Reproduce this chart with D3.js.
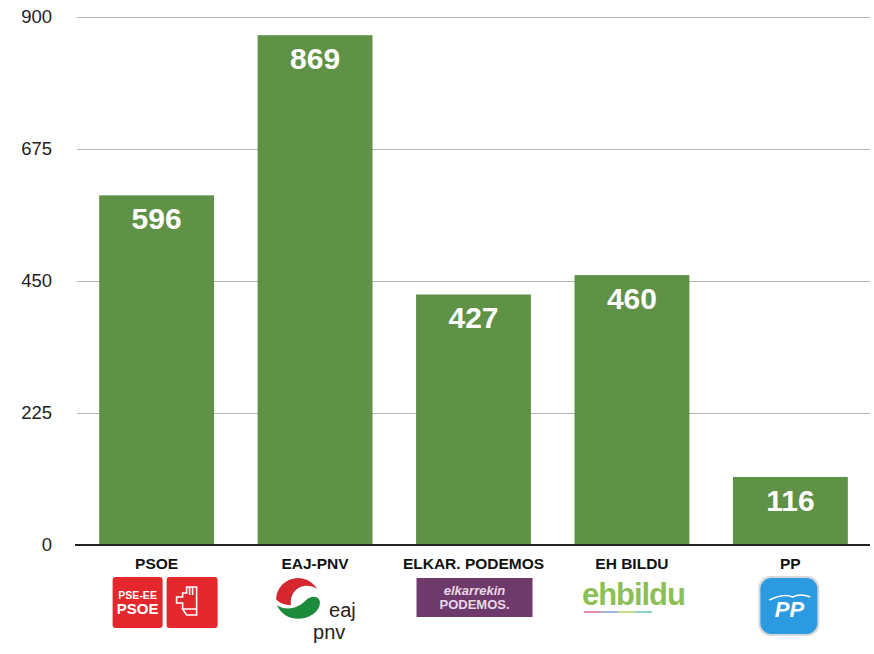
<!DOCTYPE html>
<html>
<head>
<meta charset="utf-8">
<script src="https://cdn.jsdelivr.net/npm/d3@7"></script>
<style>
  body { margin: 0; background: #fff; }
  text { font-family: "Liberation Sans", Arial, sans-serif; }
</style>
</head>
<body>
<svg id="chart"></svg>
<script>
const parties = ['PSOE', 'EAJ-PNV', 'ELKAR. PODEMOS', 'EH BILDU', 'PP'];
const seats = [596, 869, 427, 460, 116];
const yTicks = [0, 225, 450, 675, 900];

const width = 874, height = 654;
const margin = {top: 17, right: 4, bottom: 109, left: 77};

const svg = d3.select('#chart')
    .attr('width', width)
    .attr('height', height);

const x = d3.scaleBand()
    .domain(parties)
    .range([margin.left, width - margin.right])
    .paddingInner(0.275)
    .paddingOuter(0.14);

const y = d3.scaleLinear()
    .domain([0, 900])
    .range([height - margin.bottom, margin.top]);

// gridlines + tick labels
const yAxis = svg.append('g')
    .attr('transform', `translate(${margin.left},0)`)
    .call(d3.axisLeft(y).tickValues(yTicks).tickSize(-(width - margin.left - margin.right)).tickPadding(25));
yAxis.select('.domain').remove();
yAxis.selectAll('.tick line').attr('stroke', '#b4b4b4').attr('stroke-width', 1.2);
yAxis.selectAll('.tick text')
    .attr('fill', '#222')
    .attr('font-size', 18.5)
    .style('font-family', '"Liberation Sans", Arial, sans-serif');

// bars
svg.selectAll('.bar')
  .data(parties)
  .join('rect')
    .attr('class', 'bar')
    .attr('x', d => x(d))
    .attr('width', x.bandwidth())
    .attr('y', (d, i) => y(seats[i]))
    .attr('height', (d, i) => y(0) - y(seats[i]))
    .attr('fill', '#5f9146');

// value labels
svg.selectAll('.val')
  .data(parties)
  .join('text')
    .attr('class', 'val')
    .attr('x', d => x(d) + x.bandwidth() / 2)
    .attr('y', (d, i) => y(seats[i]) + 34)
    .attr('text-anchor', 'middle')
    .attr('fill', '#fff')
    .attr('font-size', 30)
    .attr('font-weight', 'bold')
    .text((d, i) => seats[i]);

// baseline
svg.append('line')
    .attr('x1', margin.left - 2).attr('x2', width - margin.right)
    .attr('y1', y(0)).attr('y2', y(0))
    .attr('stroke', '#222').attr('stroke-width', 2);

// category labels
svg.selectAll('.cat')
  .data(parties)
  .join('text')
    .attr('class', 'cat')
    .attr('x', d => x(d) + x.bandwidth() / 2)
    .attr('y', y(0) + 24)
    .attr('text-anchor', 'middle')
    .attr('fill', '#111')
    .attr('font-size', 15.5)
    .attr('font-weight', 'bold')
    .text(d => d);

// logos (rough drawings)
const logoTop = y(0) + 32;
const cx = d => x(d) + x.bandwidth() / 2;

// PSOE
let g = svg.append('g').attr('transform', `translate(${cx('PSOE')},${logoTop})`);
g.append('rect').attr('x', -44).attr('y', 0).attr('width', 50).attr('height', 51).attr('rx', 3).attr('fill', '#e4272c');
g.append('rect').attr('x', 10).attr('y', 0).attr('width', 51).attr('height', 51).attr('rx', 3).attr('fill', '#e4272c');
g.append('text').attr('x', -19).attr('y', 22).attr('text-anchor', 'middle').attr('fill', '#fff')
    .attr('font-size', 10.5).attr('font-weight', 'bold').text('PSE-EE');
g.append('text').attr('x', -19).attr('y', 37).attr('text-anchor', 'middle').attr('fill', '#fff')
    .attr('font-size', 15).attr('font-weight', 'bold').text('PSOE');
g.append('path')
    .attr('d', 'M30,10 h10 v22 h-14 v-6 h-6 v-6 h6 v-4 h4 z M26,32 h14 v6 h-10 z M33,10 v8 M36,10 v8')
    .attr('fill', 'none').attr('stroke', '#fff').attr('stroke-width', 1.6);

// EAJ-PNV
g = svg.append('g').attr('transform', `translate(${cx('EAJ-PNV')},${logoTop})`);
g.append('path').attr('d', 'M-39,22 A22,22 0 0 1 2,12 C-10,4 -26,12 -24,28 C-30,28 -36,26 -39,22 Z').attr('fill', '#d6262f');
g.append('path').attr('d', 'M-38,28 C-30,34 -18,32 -10,24 C-2,16 8,20 4,30 C-2,44 -30,48 -38,28 Z').attr('fill', '#1e8a3c');
g.append('text').attr('x', 14).attr('y', 40).attr('fill', '#222').attr('font-size', 20).text('eaj');
g.append('text').attr('x', -2).attr('y', 62).attr('fill', '#222').attr('font-size', 20).text('pnv');

// PODEMOS
g = svg.append('g').attr('transform', `translate(${cx('ELKAR. PODEMOS')},${logoTop})`);
g.append('rect').attr('x', -57).attr('y', 1).attr('width', 116).attr('height', 39).attr('fill', '#6e3a6b');
g.append('text').attr('x', 1).attr('y', 18).attr('text-anchor', 'middle').attr('fill', '#e8d8e8')
    .attr('font-size', 13).attr('font-style', 'italic').attr('font-weight', 'bold').text('elkarrekin');
g.append('text').attr('x', 1).attr('y', 32).attr('text-anchor', 'middle').attr('fill', '#e8d8e8')
    .attr('font-size', 13).attr('font-weight', 'bold').text('PODEMOS.');

// EH BILDU
g = svg.append('g').attr('transform', `translate(${cx('EH BILDU')},${logoTop})`);
g.append('text').attr('x', 2).attr('y', 28).attr('text-anchor', 'middle').attr('fill', '#8dbf57')
    .attr('font-size', 31).attr('font-weight', 'bold').attr('textLength', 104).text('ehbildu');
['#e88fa8', '#9ab8e0', '#c8dd8a', '#8fd0c8'].forEach((c, i) => {
  g.append('rect').attr('x', -48 + i * 17).attr('y', 34).attr('width', 17).attr('height', 2).attr('fill', c);
});

// PP
g = svg.append('g').attr('transform', `translate(${cx('PP')},${logoTop})`);
g.append('rect').attr('x', -32).attr('y', -1).attr('width', 61).attr('height', 60).attr('rx', 12).attr('fill', '#d9d9d9');
g.append('rect').attr('x', -30).attr('y', 1).attr('width', 57).attr('height', 56).attr('rx', 11).attr('fill', '#2b9ae0');
g.append('path').attr('d', 'M-21,23 Q-6,16 2,20 Q10,16 20,20').attr('fill', 'none').attr('stroke', '#fff').attr('stroke-width', 1.6);
g.append('text').attr('x', -1).attr('y', 40).attr('text-anchor', 'middle').attr('fill', '#fff')
    .attr('font-size', 22).attr('font-weight', 'bold').attr('font-style', 'italic').text('PP');
</script>
</body>
</html>
